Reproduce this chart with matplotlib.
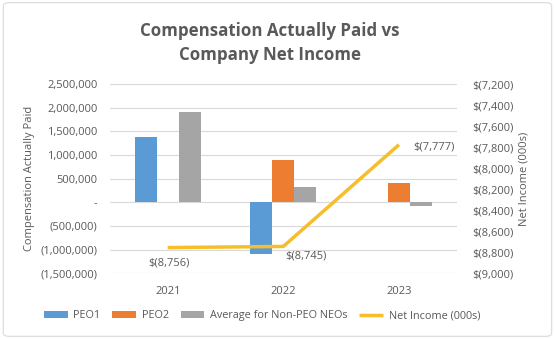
import numpy as np
import matplotlib.pyplot as plt
from matplotlib.patches import FancyBboxPatch
from matplotlib.ticker import FuncFormatter

plt.rcParams['font.family'] = ['Open Sans', 'DejaVu Sans']

years = ['2021', '2022', '2023']
peo1 = [1380000, -1100000, 0]
peo2 = [0, 900000, 410000]
non_peo = [1915000, 330000, -70000]
net_income = [-8756, -8745, -7777]
net_labels = ['$(8,756)', '$(8,745)', '$(7,777)']

txt = '#595959'
fig = plt.figure(figsize=(5.55, 3.39), dpi=100)
fig.patches.append(FancyBboxPatch((0.006, 0.008), 0.988, 0.984,
                                  boxstyle='round,pad=0,rounding_size=0.01',
                                  transform=fig.transFigure, fc='white',
                                  ec='#D9D9D9', lw=0.8, zorder=-1))
ax = fig.add_axes([0.198, 0.194, 0.625, 0.558])
ax2 = ax.twinx()

x = np.arange(len(years))
w = 0.19
ax.bar(x - w, peo1, w, color='#5B9BD5', label='PEO1', zorder=2)
ax.bar(x, peo2, w, color='#ED7D31', label='PEO2', zorder=2)
ax.bar(x + w, non_peo, w, color='#A5A5A5', label='Average for Non-PEO NEOs', zorder=2)

ax.set_xlim(-0.5, 2.5)
ax.set_ylim(-1500000, 2500000)
ax.set_yticks(np.arange(-1500000, 2500001, 500000))
ax.set_xticks(x)
ax.set_xticklabels(years)


def left_fmt(v, pos):
    if v == 0:
        return '-'
    if v < 0:
        return '({:,.0f})'.format(-v)
    return '{:,.0f}'.format(v)


def right_fmt(v, pos):
    return '$({:,.0f})'.format(-v)


ax.yaxis.set_major_formatter(FuncFormatter(left_fmt))
ax.grid(axis='y', color='#D9D9D9', lw=0.8, zorder=0)
ax.set_axisbelow(True)

line, = ax2.plot(x, net_income, color='#F5BE2A', lw=2.5, label='Net Income (000s)',
                 solid_capstyle='butt')
ax2.set_ylim(-9000, -7200)
ax2.set_yticks(np.arange(-9000, -7199, 200))
ax2.yaxis.set_major_formatter(FuncFormatter(right_fmt))

# value labels next to each net income point
offsets = [(1, -11), (16, -7), (25, -2)]
for xi, yi, lab, off in zip(x, net_income, net_labels, offsets):
    ax2.annotate(lab, (xi, yi), xytext=off, textcoords='offset points',
                 ha='center', va='center', fontsize=8, color=txt)

for a in (ax, ax2):
    for s in a.spines.values():
        s.set_visible(False)
    a.tick_params(length=0, labelsize=8, labelcolor=txt)
ax.tick_params(axis='y', pad=9)
ax2.tick_params(axis='y', pad=11)
ax.tick_params(axis='x', pad=9)

ax.set_ylabel('Compensation Actually Paid', fontsize=8, color=txt, labelpad=4)
ax2.set_ylabel('Net Income (000s)', fontsize=8, color=txt, labelpad=4)

fig.text(0.486, 0.873, 'Compensation Actually Paid vs\nCompany Net Income',
         ha='center', va='center', fontsize=12.2, fontweight='bold', color=txt,
         linespacing=1.48)

handles = ax.get_legend_handles_labels()[0] + [line]
fig.legend(handles=handles, loc='center', bbox_to_anchor=(0.472, 0.068), ncol=4,
           frameon=False, fontsize=7.8, labelcolor=txt, handlelength=2.2,
           handleheight=0.6, columnspacing=1.1, handletextpad=0.5)

fig.savefig('out.png', dpi=100)
